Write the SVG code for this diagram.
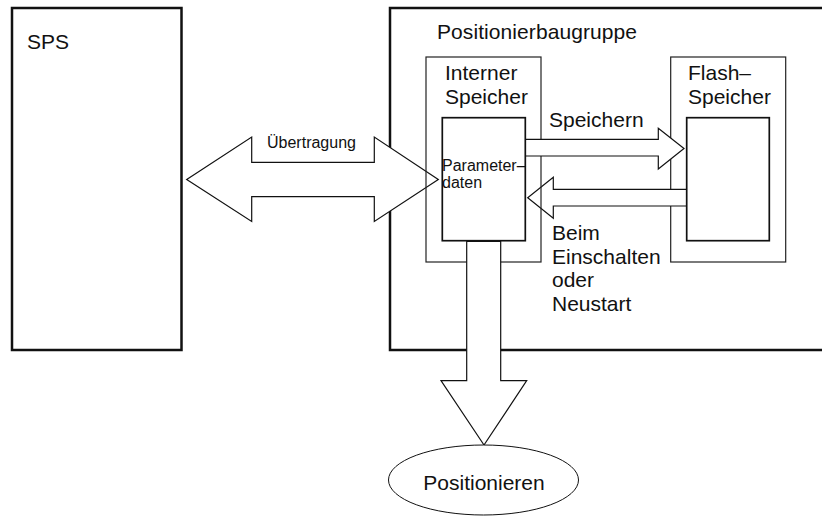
<svg xmlns="http://www.w3.org/2000/svg" width="822" height="520" viewBox="0 0 822 520">
<style>
text{font-family:"Liberation Sans",Arial,Helvetica,sans-serif;fill:#111}
.big{font-size:21px}
.small{font-size:16px}
.heavy{fill:#fff;stroke:#111;stroke-width:2.5}
.thin{fill:none;stroke:#222;stroke-width:1.2}
.inner{fill:#fff;stroke:#111;stroke-width:1.7}
.arrow{fill:#fff;stroke:#111;stroke-width:1.2;stroke-linejoin:miter}
</style>
<rect width="822" height="520" fill="#fff"/>
<g id="sps">
<rect class="heavy" x="12" y="8" width="169.5" height="342"/>
<text class="big" x="27" y="49">SPS</text>
</g>
<g id="positionierbaugruppe">
<rect class="heavy" x="390" y="8" width="445" height="342"/>
<text class="big" x="437" y="39" textLength="200">Positionierbaugruppe</text>
</g>
<g id="connectors-back">
<polygon class="arrow" points="186.7,179.5 251.7,137 251.7,162.3 374.3,162.3 374.3,137 438.3,179.5 374.3,221.5 374.3,196.7 251.7,196.7 251.7,221.5"/>
<text class="small" x="267" y="148">Übertragung</text>
</g>
<g id="flash-speicher">
<rect class="thin" x="670.7" y="57" width="115" height="205"/>
<text class="big" x="688" y="80">Flash–</text>
<text class="big" x="688" y="104">Speicher</text>
</g>
<g id="connectors">
<polygon id="laden" class="arrow" points="686.7,189.3 553.3,189.3 553.3,177.3 527.7,197.7 553.3,218.3 553.3,206 686.7,206"/>
<text class="big" x="552" y="240">Beim</text>
<text class="big" x="552" y="263.5">Einschalten</text>
<text class="big" x="552" y="287">oder</text>
<text class="big" x="552" y="310.5">Neustart</text>
</g>
<g id="interner-speicher">
<rect class="thin" x="426" y="57" width="115" height="205"/>
<text class="big" x="445" y="80">Interner</text>
<text class="big" x="445" y="104">Speicher</text>
</g>
<g id="connectors-front">
<polygon id="speichern" class="arrow" points="525,139.3 658.3,139.3 658.3,128.3 684,148.5 658.3,169 658.3,156 525,156"/>
<text class="big" x="549" y="127">Speichern</text>
</g>
<g id="parameterdaten">
<rect class="inner" x="442.3" y="117.7" width="83" height="123"/>
<text class="small" x="442" y="170.5">Parameter–</text>
<text class="small" x="442" y="188">daten</text>
</g>
<g id="flash-inhalt">
<rect class="inner" x="686.7" y="117.7" width="82.6" height="123"/>
</g>
<g id="connector-positionieren">
<polygon class="arrow" points="466.7,241.5 466.7,380.7 441,380.7 484,445 526.7,380.7 500.7,380.7 500.7,241.5"/>
</g>
<g id="positionieren">
<ellipse cx="483.5" cy="480" rx="95" ry="35" fill="#fff" stroke="#111" stroke-width="1"/>
<text class="big" x="484" y="490" text-anchor="middle">Positionieren</text>
</g>
</svg>
